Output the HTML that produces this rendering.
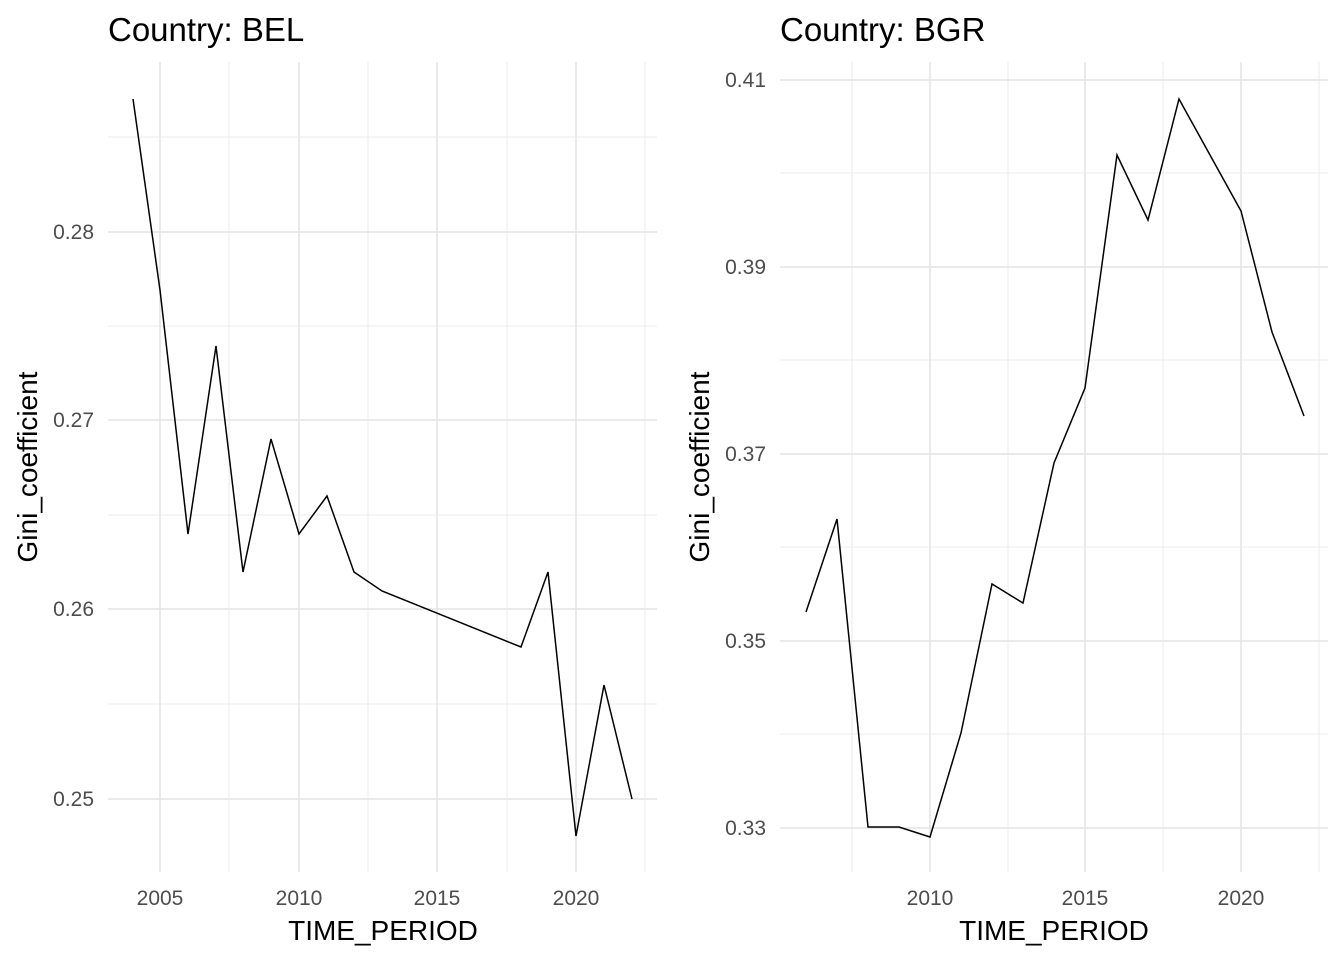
<!DOCTYPE html>
<html><head><meta charset="utf-8"><style>html,body{margin:0;padding:0;background:#fff}</style></head>
<body>
<svg width="1344" height="960" xmlns="http://www.w3.org/2000/svg" font-family="Liberation Sans, sans-serif">
<rect width="1344" height="960" fill="#fff"/>
<!-- Left panel -->
<g stroke="#ebebeb" stroke-width="1">
<line x1="108" x2="657" y1="137" y2="137"/><line x1="108" x2="657" y1="326" y2="326"/><line x1="108" x2="657" y1="515" y2="515"/><line x1="108" x2="657" y1="704" y2="704"/>
<line x1="229" x2="229" y1="62" y2="872"/><line x1="368" x2="368" y1="62" y2="872"/><line x1="507" x2="507" y1="62" y2="872"/><line x1="645" x2="645" y1="62" y2="872"/>
</g>
<g stroke="#e4e4e4" stroke-width="1.5">
<line x1="108" x2="657" y1="232" y2="232"/><line x1="108" x2="657" y1="420" y2="420"/><line x1="108" x2="657" y1="609" y2="609"/><line x1="108" x2="657" y1="799" y2="799"/>
<line x1="160" x2="160" y1="62" y2="872"/><line x1="299" x2="299" y1="62" y2="872"/><line x1="437" x2="437" y1="62" y2="872"/><line x1="576" x2="576" y1="62" y2="872"/>
</g>
<polyline fill="none" stroke="#000" stroke-width="1.5" points="133,99 160,290 188,534 216,346 243,572 271,439 299,534 327,496 354,572 382,591 521,647 548,572 576,836 604,685 632,799"/>
<g fill="#4d4d4d" font-size="21" text-anchor="end">
<text x="94" y="239">0.28</text><text x="94" y="427">0.27</text><text x="94" y="616">0.26</text><text x="94" y="806">0.25</text>
</g>
<g fill="#4d4d4d" font-size="21" text-anchor="middle">
<text x="160" y="905">2005</text><text x="299" y="905">2010</text><text x="437" y="905">2015</text><text x="576" y="905">2020</text>
</g>
<text x="383" y="940" font-size="28" text-anchor="middle">TIME_PERIOD</text>
<text transform="translate(37,467) rotate(-90)" font-size="28" text-anchor="middle">Gini_coefficient</text>
<text x="108" y="41" font-size="33">Country: BEL</text>
<!-- Right panel -->
<g stroke="#ebebeb" stroke-width="1">
<line x1="780" x2="1328" y1="173" y2="173"/><line x1="780" x2="1328" y1="360" y2="360"/><line x1="780" x2="1328" y1="547" y2="547"/><line x1="780" x2="1328" y1="734" y2="734"/>
<line x1="852" x2="852" y1="62" y2="872"/><line x1="1008" x2="1008" y1="62" y2="872"/><line x1="1163" x2="1163" y1="62" y2="872"/><line x1="1319" x2="1319" y1="62" y2="872"/>
</g>
<g stroke="#e4e4e4" stroke-width="1.5">
<line x1="780" x2="1328" y1="80" y2="80"/><line x1="780" x2="1328" y1="267" y2="267"/><line x1="780" x2="1328" y1="454" y2="454"/><line x1="780" x2="1328" y1="641" y2="641"/><line x1="780" x2="1328" y1="828" y2="828"/>
<line x1="930" x2="930" y1="62" y2="872"/><line x1="1085" x2="1085" y1="62" y2="872"/><line x1="1241" x2="1241" y1="62" y2="872"/>
</g>
<polyline fill="none" stroke="#000" stroke-width="1.5" points="806,612 837,519 868,827 899,827 930,837 961,733 992,584 1023,603 1054,463 1085,388 1117,155 1148,220 1179,99 1210,155 1241,211 1272,332 1304,416"/>
<g fill="#4d4d4d" font-size="21" text-anchor="end">
<text x="766" y="87">0.41</text><text x="766" y="274">0.39</text><text x="766" y="461">0.37</text><text x="766" y="648">0.35</text><text x="766" y="835">0.33</text>
</g>
<g fill="#4d4d4d" font-size="21" text-anchor="middle">
<text x="930" y="905">2010</text><text x="1085" y="905">2015</text><text x="1241" y="905">2020</text>
</g>
<text x="1054" y="940" font-size="28" text-anchor="middle">TIME_PERIOD</text>
<text transform="translate(709,467) rotate(-90)" font-size="28" text-anchor="middle">Gini_coefficient</text>
<text x="780" y="41" font-size="33">Country: BGR</text>
</svg>
</body></html>
